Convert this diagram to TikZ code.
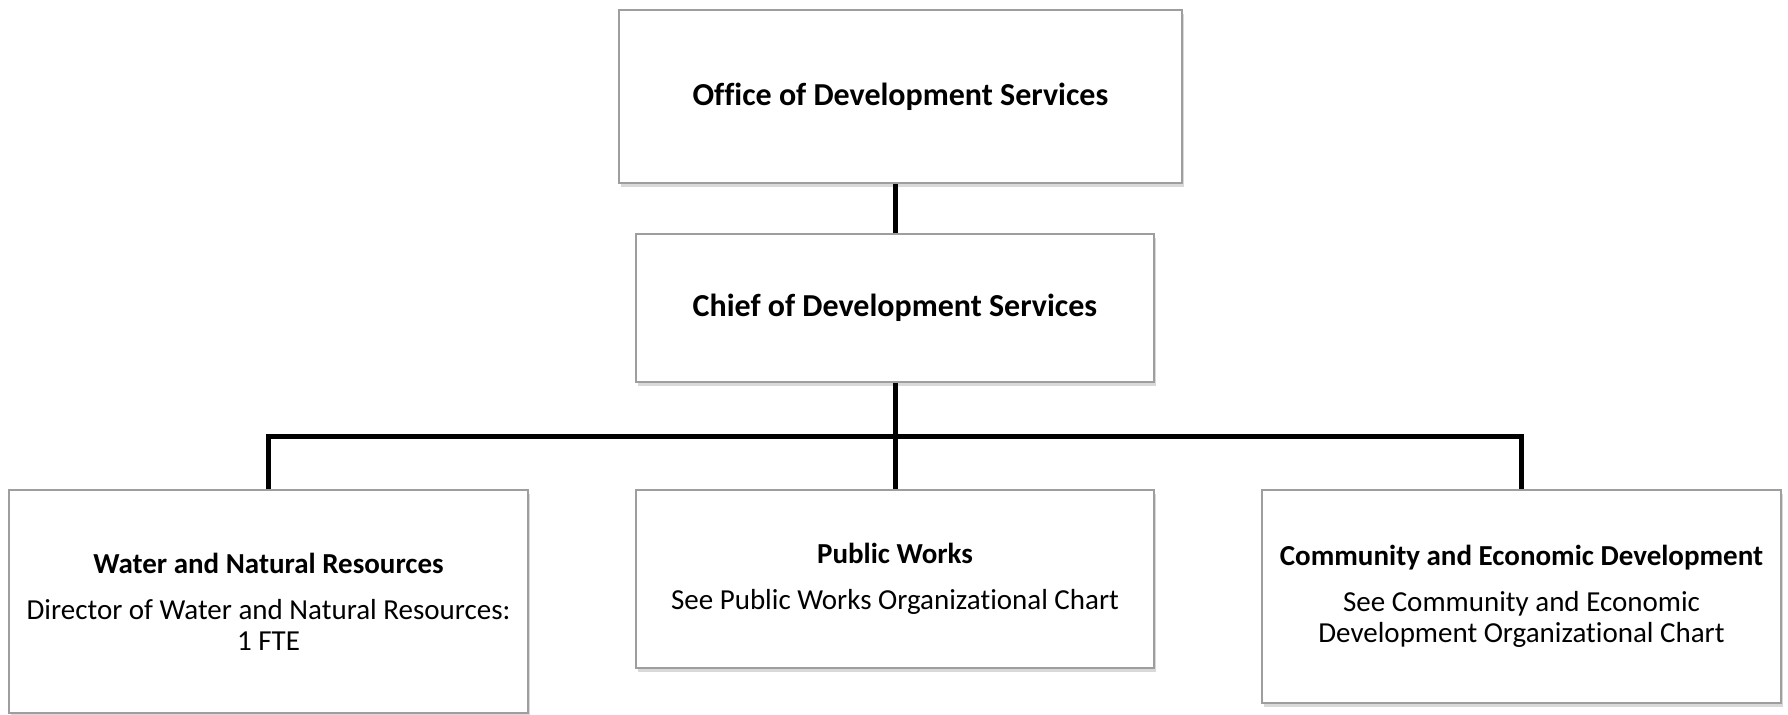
\documentclass[tikz,border=0pt]{standalone}
\usepackage{fontspec}
\setmainfont{Carlito}[Ligatures=NoCommon]
\usepackage{tikz}
\usetikzlibrary{shadows}
\tikzset{
	boxstyle/.style={rectangle,draw=black!38,line width=0.6pt,fill=white,align=center,inner sep=0pt,
		drop shadow={opacity=0.3,shadow xshift=1.2pt,shadow yshift=-1.8pt}},
	topstyle/.style={boxstyle,font=\fontsize{16}{19}\selectfont\bfseries},
	unitstyle/.style={boxstyle,font=\fontsize{14.5}{15.5}\selectfont},
	linkstyle/.style={draw=black,line width=2.5pt}
}

\begin{document}
\begin{tikzpicture}[x=0.5pt,y=-0.5pt]
	\useasboundingbox (0,0) rectangle (1788,714);
	\node[topstyle,minimum width=281.5pt,minimum height=86.5pt] (ods) at (900.5,96.5) {Office of Development Services};
	\node[topstyle,minimum width=259pt,minimum height=74pt] (cds) at (895,308) {Chief of Development Services};
	\node[unitstyle,minimum width=259.5pt,minimum height=111.5pt] (wnr) at (268.5,601.5) {\textbf{Water and Natural Resources}\\[7.5pt]Director of Water and Natural Resources:\\1 FTE};
	\node[unitstyle,minimum width=259pt,minimum height=89pt] (pw) at (895,579) {\textbf{Public Works}\\[7.5pt]See Public Works Organizational Chart};
	\node[unitstyle,minimum width=259.5pt,minimum height=106.5pt] (ced) at (1521.5,596.5) {\textbf{Community and Economic Development}\\[7.5pt]See Community and Economic\\Development Organizational Chart};
	\coordinate (bus) at (895,436);
	\draw[linkstyle] (cds.north) -- (cds.north |- ods.south);
	\draw[linkstyle] (cds.south) -- (pw.north);
	\draw[linkstyle] (wnr.north) |- (bus) -| (ced.north);
\end{tikzpicture}
\end{document}
